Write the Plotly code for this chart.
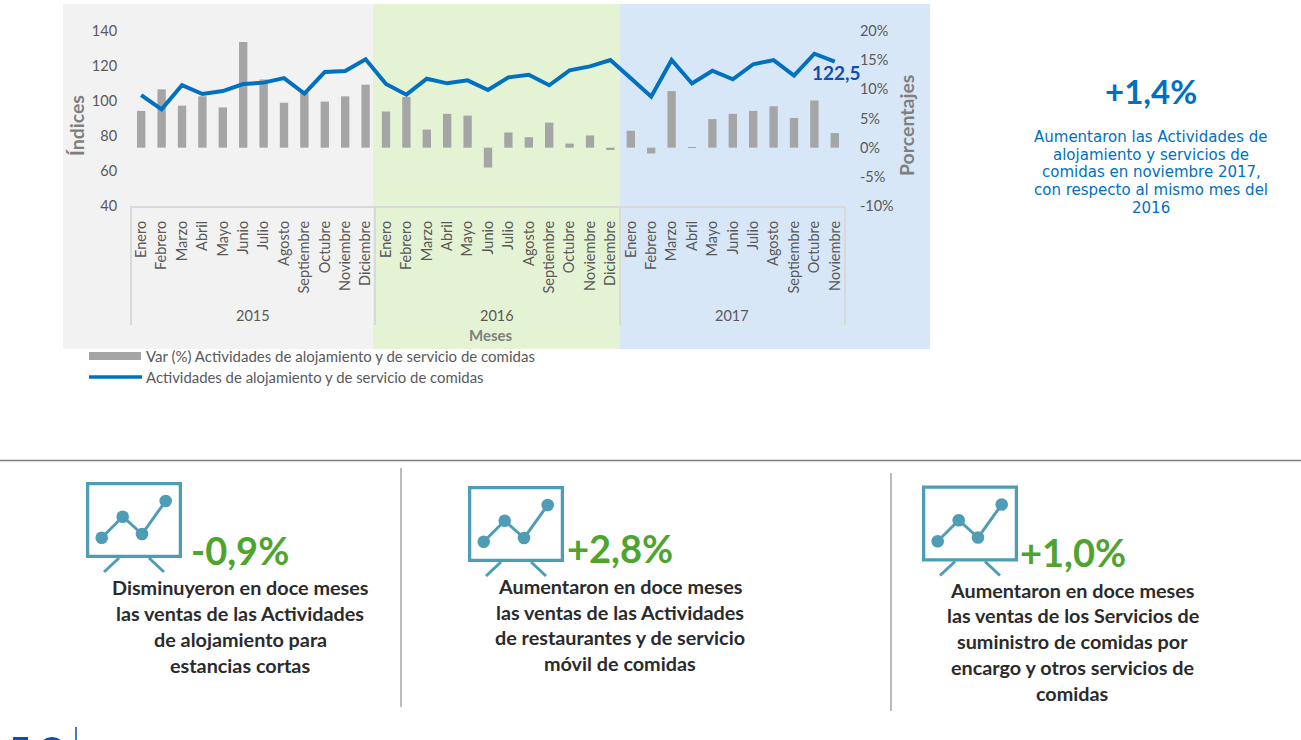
import plotly.graph_objects as go

W, H = 1301, 740

MONTHS = ["Enero", "Febrero", "Marzo", "Abril", "Mayo", "Junio", "Julio", "Agosto",
          "Septiembre", "Octubre", "Noviembre", "Diciembre"]
month_labels = MONTHS + MONTHS + MONTHS[:11]
period_index = list(range(len(month_labels)))

var_pct = [6.3, 10.0, 7.2, 8.8, 6.9, 18.1, 11.7, 7.7, 9.4, 7.9, 8.8, 10.8,
           6.2, 8.7, 3.1, 5.8, 5.5, -3.4, 2.6, 1.8, 4.3, 0.7, 2.1, -0.4,
           2.9, -1.0, 9.7, 0.1, 4.9, 5.8, 6.3, 7.1, 5.1, 8.1, 2.5]
indices = [103.4, 95.2, 109.1, 104.0, 105.7, 109.7, 110.5, 113.1, 104.2, 116.6, 117.1, 123.8,
           109.7, 103.6, 112.7, 110.1, 111.8, 106.3, 113.5, 115.0, 109.0, 117.5, 119.8, 123.4,
           113.0, 102.5, 123.4, 110.0, 117.3, 112.4, 121.0, 123.4, 114.5, 127.0, 122.5]

BAR_NAME = "Var (%) Actividades de alojamiento y de servicio de comidas"
LINE_NAME = "Actividades de alojamiento y de servicio de comidas"
LAST_LABEL = "122,5"
YEARS = ["2015", "2016", "2017"]
year_centers = [253, 497, 732]

HEADLINE = "+1,4%"
HEADLINE_LINES = ["Aumentaron las Actividades de", "alojamiento y servicios de",
                  "comidas en noviembre 2017,", "con respecto al mismo mes del", "2016"]
CARD_VALUES = ["-0,9%", "+2,8%", "+1,0%"]
CARD_LINES = [
    ["Disminuyeron en doce meses", "las ventas de las Actividades", "de alojamiento para", "estancias cortas"],
    ["Aumentaron en doce meses", "las ventas de las Actividades", "de restaurantes y de servicio", "móvil de comidas"],
    ["Aumentaron en doce meses", "las ventas de los Servicios de", "suministro de comidas por",
     "encargo y otros servicios de", "comidas"],
]

FONT = "Lato"
GREY_TXT = "#595959"
TITLE_GREY = "#7F7F7F"
BLUE = "#0070C0"
TEAL = "#4F9DB5"
GREEN = "#4FA32F"
DARK = "#2B2B2B"


def xp(x):
    return x / W


def yp(y):
    return 1 - y / H


shapes = []
annotations = []


def rect(x0, y0, x1, y1, fill=None, line=None, lw=0, layer="below"):
    shapes.append(dict(type="rect", xref="paper", yref="paper", x0=xp(x0), x1=xp(x1), y0=yp(y0), y1=yp(y1),
                       fillcolor=fill or "rgba(0,0,0,0)", line=dict(color=line or "rgba(0,0,0,0)", width=lw), layer=layer))


def seg(x0, y0, x1, y1, color, lw):
    shapes.append(dict(type="line", xref="paper", yref="paper", x0=xp(x0), x1=xp(x1), y0=yp(y0), y1=yp(y1),
                       line=dict(color=color, width=lw), layer="above"))


def dot(cx, cy, r, color):
    shapes.append(dict(type="circle", xref="paper", yref="paper", x0=xp(cx - r), x1=xp(cx + r), y0=yp(cy - r), y1=yp(cy + r),
                       fillcolor=color, line=dict(width=0), layer="above"))


def text(x, y, s, size, color, bold=False, anchor="center", angle=0, family=FONT):
    annotations.append(dict(xref="paper", yref="paper", x=xp(x), y=yp(y), text=f"<b>{s}</b>" if bold else s,
                            showarrow=False, xanchor=anchor, yanchor="middle", textangle=angle,
                            font=dict(family=family, size=size, color=color),
                            borderpad=0, borderwidth=0))


# coloured year panels
rect(63, 4, 373, 349, fill="#F2F2F2")
rect(373, 4, 620, 349, fill="#E5F3D5")
rect(620, 4, 930, 349, fill="#D8E7F7")

# year dividers of the category axis
for x in (131, 375, 620, 845):
    seg(x, 206, x, 325, "#D9D9D9", 2)
for cx, y in zip(year_centers, YEARS):
    text(cx, 315, y, 14.5, GREY_TXT)

text(491, 335, "Meses", 15, TITLE_GREY, bold=True)
text(76, 126, "Índices", 19.5, TITLE_GREY, bold=True, angle=-90)
text(906, 126, "Porcentajes", 19.5, TITLE_GREY, bold=True, angle=-90)

# manual legend
rect(89, 352, 141, 360, fill="#A5A5A5", layer="above")
seg(89, 377, 142, 377, BLUE, 3.5)
text(146, 355.5, BAR_NAME, 15, GREY_TXT, anchor="left")
text(146, 376.5, LINE_NAME, 14.9, GREY_TXT, anchor="left")

# right-hand note
text(1151, 91, HEADLINE, 33, BLUE, bold=True)
for y, s in zip([137, 154.7, 172.4, 190.1, 207.8], HEADLINE_LINES):
    text(1151, y, s, 15, BLUE, family="DejaVu Sans")

# separators
seg(0, 460.5, W, 460.5, "#7F7F7F", 1.5)
seg(401, 468, 401, 707, "#A6A6A6", 1.5)
seg(891, 473, 891, 711, "#A6A6A6", 1.5)


def icon(dx, dy):
    rect(87.6 + dx, 483.6 + dy, 180.4 + dx, 556.4 + dy, line=TEAL, lw=3.3, layer="above")
    pts = [(101.7, 537.7), (122.7, 516.7), (142, 534), (165.7, 501)]
    for (a, b), (c, d) in zip(pts, pts[1:]):
        seg(a + dx, b + dy, c + dx, d + dy, TEAL, 3)
    for a, b in pts:
        dot(a + dx, b + dy, 6.3, TEAL)
    seg(119 + dx, 558 + dy, 104 + dx, 572 + dy, TEAL, 3)
    seg(149 + dx, 558 + dy, 164 + dx, 572 + dy, TEAL, 3)


icon(0, 0)
icon(382, 4)
icon(836, 3.5)

text(240.5, 549.5, CARD_VALUES[0], 38, GREEN, bold=True)
text(620, 547.5, CARD_VALUES[1], 38, GREEN, bold=True)
text(1073, 551.5, CARD_VALUES[2], 38, GREEN, bold=True)
for cx, ys, lines in [(240.5, [587, 613, 639, 665], CARD_LINES[0]),
                      (620, [585.5, 611.5, 637, 663], CARD_LINES[1]),
                      (1072.7, [589.5, 615, 641, 667, 692.5], CARD_LINES[2])]:
    for y, s in zip(ys, lines):
        text(cx, y, s, 19.8, DARK, bold=True)

# cropped logo at the page edge
seg(76, 727, 76, 740, "#0B4FB3", 1.5)
rect(13, 737, 28, 741, fill="#0B4FB3", layer="above")
dot(52, 751, 14, "#0B4FB3")

fig = go.Figure()
fig.add_trace(go.Bar(x=period_index, y=var_pct, name=BAR_NAME, marker=dict(color="#A5A5A5", line=dict(width=0)),
                     width=0.41, yaxis="y", showlegend=False))
fig.add_trace(go.Scatter(x=period_index, y=indices, name=LINE_NAME, mode="lines",
                         line=dict(color=BLUE, width=4), yaxis="y2", showlegend=False))

annotations.append(dict(x=period_index[-1], y=indices[-1], xref="x", yref="y2", text=f"<b>{LAST_LABEL}</b>",
                        showarrow=False, xanchor="center", yanchor="middle", xshift=1.5, yshift=-10.5,
                        font=dict(family=FONT, size=19, color="#0F4FAF")))

fig.update_layout(
    width=W, height=H, margin=dict(l=0, r=0, t=0, b=0), paper_bgcolor="white", plot_bgcolor="rgba(0,0,0,0)",
    showlegend=False, font=dict(family=FONT, size=14, color=GREY_TXT), bargap=0.59,
    shapes=shapes, annotations=annotations,
    xaxis=dict(domain=[xp(131), xp(845)], range=[-0.5, 34.5], tickmode="array", tickvals=period_index,
               ticktext=month_labels, tickangle=-90, ticks="outside", ticklen=7, tickcolor="rgba(0,0,0,0)",
               showgrid=False, zeroline=False, showline=True, linecolor="#D9D9D9", linewidth=2,
               anchor="y2", tickfont=dict(family=FONT, size=14.5, color=GREY_TXT), automargin=False),
    yaxis=dict(domain=[yp(206), yp(31)], range=[-10, 20], side="right", tickvals=[-10, -5, 0, 5, 10, 15, 20],
               ticktext=["-10%", "-5%", "0%", "5%", "10%", "15%", "20%"], showgrid=False, zeroline=False,
               ticks="outside", ticklen=11, tickcolor="rgba(0,0,0,0)", anchor="x",
               tickfont=dict(family=FONT, size=14.5, color=GREY_TXT), automargin=False),
    yaxis2=dict(domain=[yp(206), yp(31)], range=[40, 140], overlaying="y", side="left", dtick=20, showgrid=False,
                zeroline=False, ticks="outside", ticklen=10, tickcolor="rgba(0,0,0,0)", anchor="x",
                tickfont=dict(family=FONT, size=14.5, color=GREY_TXT), automargin=False),
)

fig.write_html("out.html", config=dict(displayModeBar=False),
               post_script="document.body.style.margin='0';document.documentElement.style.overflow='hidden';")
